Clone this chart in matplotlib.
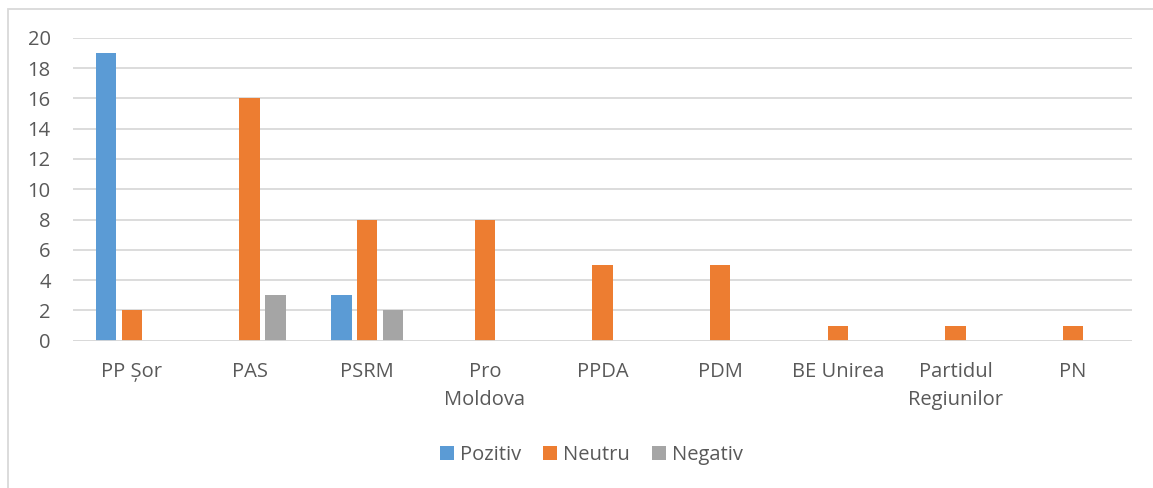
import numpy as np
import matplotlib
matplotlib.use("Agg")
import matplotlib.pyplot as plt
from matplotlib.patches import Rectangle

categories = ["PP Șor", "PAS", "PSRM", "Pro\nMoldova", "PPDA", "PDM",
              "BE Unirea", "Partidul\nRegiunilor", "PN"]
pozitiv = [19, 0, 3, 0, 0, 0, 0, 0, 0]
neutru = [2, 16, 8, 8, 5, 5, 1, 1, 1]
negativ = [0, 3, 2, 0, 0, 0, 0, 0, 0]
series = [("Pozitiv", pozitiv, "#5B9BD5"),
          ("Neutru", neutru, "#ED7D31"),
          ("Negativ", negativ, "#A5A5A5")]

plt.rcParams["font.family"] = ["Open Sans", "DejaVu Sans"]
W, H = 1153, 488
fig = plt.figure(figsize=(W / 100, H / 100), dpi=100)
ax = fig.add_axes([73 / W, 1 - 340.7 / H, (1132 - 73) / W, (340.7 - 37.7) / H])

x = np.arange(len(categories))
bw, step = 0.174, 0.22
for i, (name, vals, col) in enumerate(series):
    ax.bar(x + (i - 1) * step, vals, bw, color=col, label=name, zorder=3)

ax.set_xlim(-0.5, len(categories) - 0.5)
ax.set_ylim(0, 20)
ax.set_yticks(range(0, 21, 2))
ax.set_xticks(x)
ax.set_xticklabels(categories, linespacing=1.55)
ax.yaxis.grid(True, color="#D9D9D9", lw=1.3, zorder=0)
for s in ax.spines.values():
    s.set_visible(False)
ax.tick_params(length=0, labelsize=14.5, colors="#595959")
ax.tick_params(axis="x", pad=15)
ax.tick_params(axis="y", pad=16)
ax.axhline(0, color="#D9D9D9", lw=1.3, zorder=4)

leg = fig.legend(loc="center", bbox_to_anchor=(0.513, 1 - 455 / H), ncol=3,
                 frameon=False, fontsize=14.5, handlelength=0.7, handleheight=0.7,
                 handletextpad=0.3, columnspacing=1.1)
for t in leg.get_texts():
    t.set_color("#595959")

fig.patches.append(Rectangle((8 / W, -0.1), 1.2, 1 - 8.5 / H + 0.1,
                             transform=fig.transFigure, fill=False,
                             edgecolor="#D9D9D9", lw=1.3))
fig.savefig("out.png", dpi=100)
